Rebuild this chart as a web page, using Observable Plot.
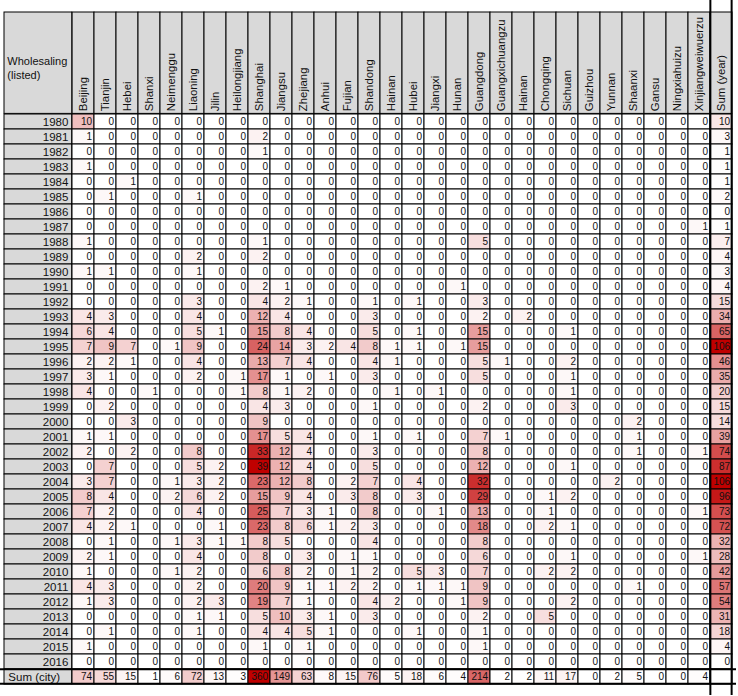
<!DOCTYPE html>
<html><head><meta charset="utf-8">
<script src="https://cdn.jsdelivr.net/npm/d3@7"></script>
<script src="https://cdn.jsdelivr.net/npm/@observablehq/plot@0.6"></script>
<style>body{margin:0;background:#fff}</style>
</head><body><div id="chart"></div>
<script>
const provinces = ["Beijing","Tianjin","Hebei","Shanxi","Neimenggu","Liaoning","Jilin","Heilongjiang","Shanghai","Jiangsu","Zhejiang","Anhui","Fujian","Shandong","Hainan","Hubei","Jiangxi","Hunan","Guangdong","Guangxichuangzu","Hainan","Chongqing","Sichuan","Guizhou","Yunnan","Shaanxi","Gansu","Ningxiahuizu","Xinjiangweiwuerzu"];
const years = [1980,1981,1982,1983,1984,1985,1986,1987,1988,1989,1990,1991,1992,1993,1994,1995,1996,1997,1998,1999,2000,2001,2002,2003,2004,2005,2006,2007,2008,2009,2010,2011,2012,2013,2014,2015,2016];
const counts = [
 [10,0,0,0,0,0,0,0, 0,0,0,0,0,0,0,0,0,0,0, 0,0,0,0,0,0,0,0,0,0],
 [1,0,0,0,0,0,0,0, 2,0,0,0,0,0,0,0,0,0,0, 0,0,0,0,0,0,0,0,0,0],
 [0,0,0,0,0,0,0,0, 1,0,0,0,0,0,0,0,0,0,0, 0,0,0,0,0,0,0,0,0,0],
 [1,0,0,0,0,0,0,0, 0,0,0,0,0,0,0,0,0,0,0, 0,0,0,0,0,0,0,0,0,0],
 [0,0,1,0,0,0,0,0, 0,0,0,0,0,0,0,0,0,0,0, 0,0,0,0,0,0,0,0,0,0],
 [0,1,0,0,0,1,0,0, 0,0,0,0,0,0,0,0,0,0,0, 0,0,0,0,0,0,0,0,0,0],
 [0,0,0,0,0,0,0,0, 0,0,0,0,0,0,0,0,0,0,0, 0,0,0,0,0,0,0,0,0,0],
 [0,0,0,0,0,0,0,0, 0,0,0,0,0,0,0,0,0,0,0, 0,0,0,0,0,0,0,0,0,1],
 [1,0,0,0,0,0,0,0, 1,0,0,0,0,0,0,0,0,0,5, 0,0,0,0,0,0,0,0,0,0],
 [0,0,0,0,0,2,0,0, 2,0,0,0,0,0,0,0,0,0,0, 0,0,0,0,0,0,0,0,0,0],
 [1,1,0,0,0,1,0,0, 0,0,0,0,0,0,0,0,0,0,0, 0,0,0,0,0,0,0,0,0,0],
 [0,0,0,0,0,0,0,0, 2,1,0,0,0,0,0,0,0,1,0, 0,0,0,0,0,0,0,0,0,0],
 [0,0,0,0,0,3,0,0, 4,2,1,0,0,1,0,1,0,0,3, 0,0,0,0,0,0,0,0,0,0],
 [4,3,0,0,0,4,0,0, 12,4,0,0,0,3,0,0,0,0,2, 0,2,0,0,0,0,0,0,0,0],
 [6,4,0,0,0,5,1,0, 15,8,4,0,0,5,0,1,0,0,15, 0,0,0,1,0,0,0,0,0,0],
 [7,9,7,0,1,9,0,0, 24,14,3,2,4,8,1,1,0,1,15, 0,0,0,0,0,0,0,0,0,0],
 [2,2,1,0,0,4,0,0, 13,7,4,0,0,4,1,0,0,0,5, 1,0,0,2,0,0,0,0,0,0],
 [3,1,0,0,0,2,0,1, 17,1,0,1,0,3,0,0,0,0,5, 0,0,0,1,0,0,0,0,0,0],
 [4,0,0,1,0,0,0,1, 8,1,2,0,0,0,1,0,1,0,0, 0,0,0,1,0,0,0,0,0,0],
 [0,2,0,0,0,0,0,0, 4,3,0,0,0,1,0,0,0,0,2, 0,0,0,3,0,0,0,0,0,0],
 [0,0,3,0,0,0,0,0, 9,0,0,0,0,0,0,0,0,0,0, 0,0,0,0,0,0,2,0,0,0],
 [1,1,0,0,0,0,0,0, 17,5,4,0,0,1,0,1,0,0,7, 1,0,0,0,0,0,1,0,0,0],
 [2,0,2,0,0,8,0,0, 33,12,4,0,0,3,0,0,0,0,8, 0,0,0,0,0,0,1,0,0,1],
 [0,7,0,0,0,5,2,0, 39,12,4,0,0,5,0,0,0,0,12, 0,0,0,1,0,0,0,0,0,0],
 [3,7,0,0,1,3,2,0, 23,12,8,0,2,7,0,4,0,0,32, 0,0,0,0,0,2,0,0,0,0],
 [8,4,0,0,2,6,2,0, 15,9,4,0,3,8,0,3,0,0,29, 0,0,1,2,0,0,0,0,0,0],
 [7,2,0,0,0,4,0,0, 25,7,3,1,0,8,0,0,1,0,13, 0,0,1,0,0,0,0,0,0,1],
 [4,2,1,0,0,0,1,0, 23,8,6,1,2,3,0,0,0,0,18, 0,0,2,1,0,0,0,0,0,0],
 [0,1,0,0,1,3,1,1, 8,5,0,0,0,4,0,0,0,0,8, 0,0,0,0,0,0,0,0,0,0],
 [2,1,0,0,0,4,0,0, 8,0,3,0,1,1,0,0,0,0,6, 0,0,0,1,0,0,0,0,0,1],
 [1,0,0,0,1,2,0,0, 6,8,2,0,1,2,0,5,3,0,7, 0,0,2,2,0,0,0,0,0,0],
 [4,3,0,0,0,2,0,0, 20,9,1,1,2,2,0,1,1,1,9, 0,0,0,0,0,0,1,0,0,0],
 [1,3,0,0,0,2,3,0, 19,7,1,0,0,4,2,0,0,1,9, 0,0,0,2,0,0,0,0,0,0],
 [0,0,0,0,0,1,1,0, 5,10,3,1,0,3,0,0,0,0,2, 0,0,5,0,0,0,0,0,0,0],
 [0,1,0,0,0,1,0,0, 4,4,5,1,0,0,0,1,0,0,1, 0,0,0,0,0,0,0,0,0,0],
 [1,0,0,0,0,0,0,0, 1,0,1,0,0,0,0,0,0,0,1, 0,0,0,0,0,0,0,0,0,0],
 [0,0,0,0,0,0,0,0, 0,0,0,0,0,0,0,0,0,0,0, 0,0,0,0,0,0,0,0,0,0]
];
const sumYear = [10,3,1,1,1,2,0,1,7,4,3,4,15,34,65,106,46,35,20,15,14,39,74,87,106,96,73,72,32,28,42,57,54,31,18,4,0];
const sumCity = [74,55,15,1,6,72,13,3,360,149,63,8,15,76,5,18,6,4,214,2,2,11,17,0,2,5,0,0,4];
const sumRowLabel = "Sum (city)";
const sumColLabel = "Sum (year)";
const cornerLabel = "Wholesaling\n(listed)";

const colNames = [...provinces, sumColLabel];
const colIdx = d3.range(colNames.length);
const rowKeys = [...years.map(String), sumRowLabel];
const nP = provinces.length;

const gridMax = d3.max(counts.flat());
const yearMax = d3.max(sumYear);
const cityMax = d3.max(sumCity);

const cells = [];
counts.forEach((row, i) => row.forEach((v, j) => cells.push({row: String(years[i]), col: j, value: v, t: v / gridMax})));
sumYear.forEach((v, i) => cells.push({row: String(years[i]), col: nP, value: v, t: v / yearMax}));
sumCity.forEach((v, j) => cells.push({row: sumRowLabel, col: j, value: v, t: v / cityMax}));

const W = 738, H = 696, mL = 68, mT = 102, mR = 2, mB = 1;
const colW = (W - mL - mR) / colNames.length;
const rowH = (H - mT - mB) / rowKeys.length;
const gray = "#d9d9d9";

const chart = Plot.plot({
  width: W, height: H,
  marginLeft: mL, marginTop: mT, marginRight: mR, marginBottom: mB,
  x: {type: "band", domain: colIdx, padding: 0, axis: null},
  y: {type: "band", domain: rowKeys, padding: 0, axis: null},
  color: {type: "linear", domain: [0, 1], range: ["#ffffff", "#c00000"]},
  style: {fontFamily: "'Liberation Sans', Arial, sans-serif", background: "white", color: "black"},
  marks: [
    Plot.cell(colIdx, {x: d => d, y: () => rowKeys[0], fill: gray, stroke: "black", inset: 0, insetTop: -mT, insetBottom: rowH}),
    Plot.cell(rowKeys, {x: () => 0, y: d => d, fill: gray, stroke: "black", inset: 0, insetLeft: -mL, insetRight: colW}),
    Plot.cell([cornerLabel], {x: () => 0, y: () => rowKeys[0], fill: gray, stroke: "black", inset: 0, insetLeft: -mL, insetRight: colW, insetTop: -mT, insetBottom: rowH}),
    Plot.cell(cells, {x: "col", y: "row", fill: "t", stroke: "black", inset: 0}),
    Plot.cell([sumRowLabel], {x: () => nP, y: d => d, fill: "white", stroke: "black", inset: 0}),
    Plot.text(cells, {x: "col", y: "row", text: d => String(d.value), textAnchor: "end", dx: colW / 2 - 2.5, fontSize: 10, fill: "#111"}),
    Plot.text(years, {x: () => 0, y: d => String(d), text: d => String(d), textAnchor: "end", dx: -colW / 2 - 4, fontSize: 11.5, fill: "#111"}),
    Plot.text([sumRowLabel], {x: () => 0, y: d => d, text: d => d, textAnchor: "start", dx: -colW / 2 - mL + 4, fontSize: 11.5, fill: "#111"}),
    Plot.text(colIdx, {x: d => d, y: () => rowKeys[0], text: d => colNames[d], rotate: -90, textAnchor: "start", dy: -rowH / 2 - 3, fontSize: 11.4, fill: "#111"}),
    Plot.text([cornerLabel], {x: () => 0, y: () => rowKeys[0], text: d => d, textAnchor: "start", dx: -colW / 2 - mL + 3, dy: -rowH / 2 - mT + 55, fontSize: 11, lineHeight: 1.3, fill: "#111"}),
    Plot.ruleX([nP], {x: d => d, dx: -colW / 2, strokeWidth: 2, insetTop: -mT}),
    Plot.ruleX([nP], {x: d => d, dx: colW / 2 - 1, strokeWidth: 2, insetTop: -mT}),
    Plot.ruleY([sumRowLabel], {y: d => d, dy: -rowH / 2, strokeWidth: 2, insetLeft: -mL}),
    Plot.ruleY([sumRowLabel], {y: d => d, dy: rowH / 2 - 1, strokeWidth: 2, insetLeft: -mL})
  ]
});
document.getElementById("chart").appendChild(chart);
</script>
</body></html>
